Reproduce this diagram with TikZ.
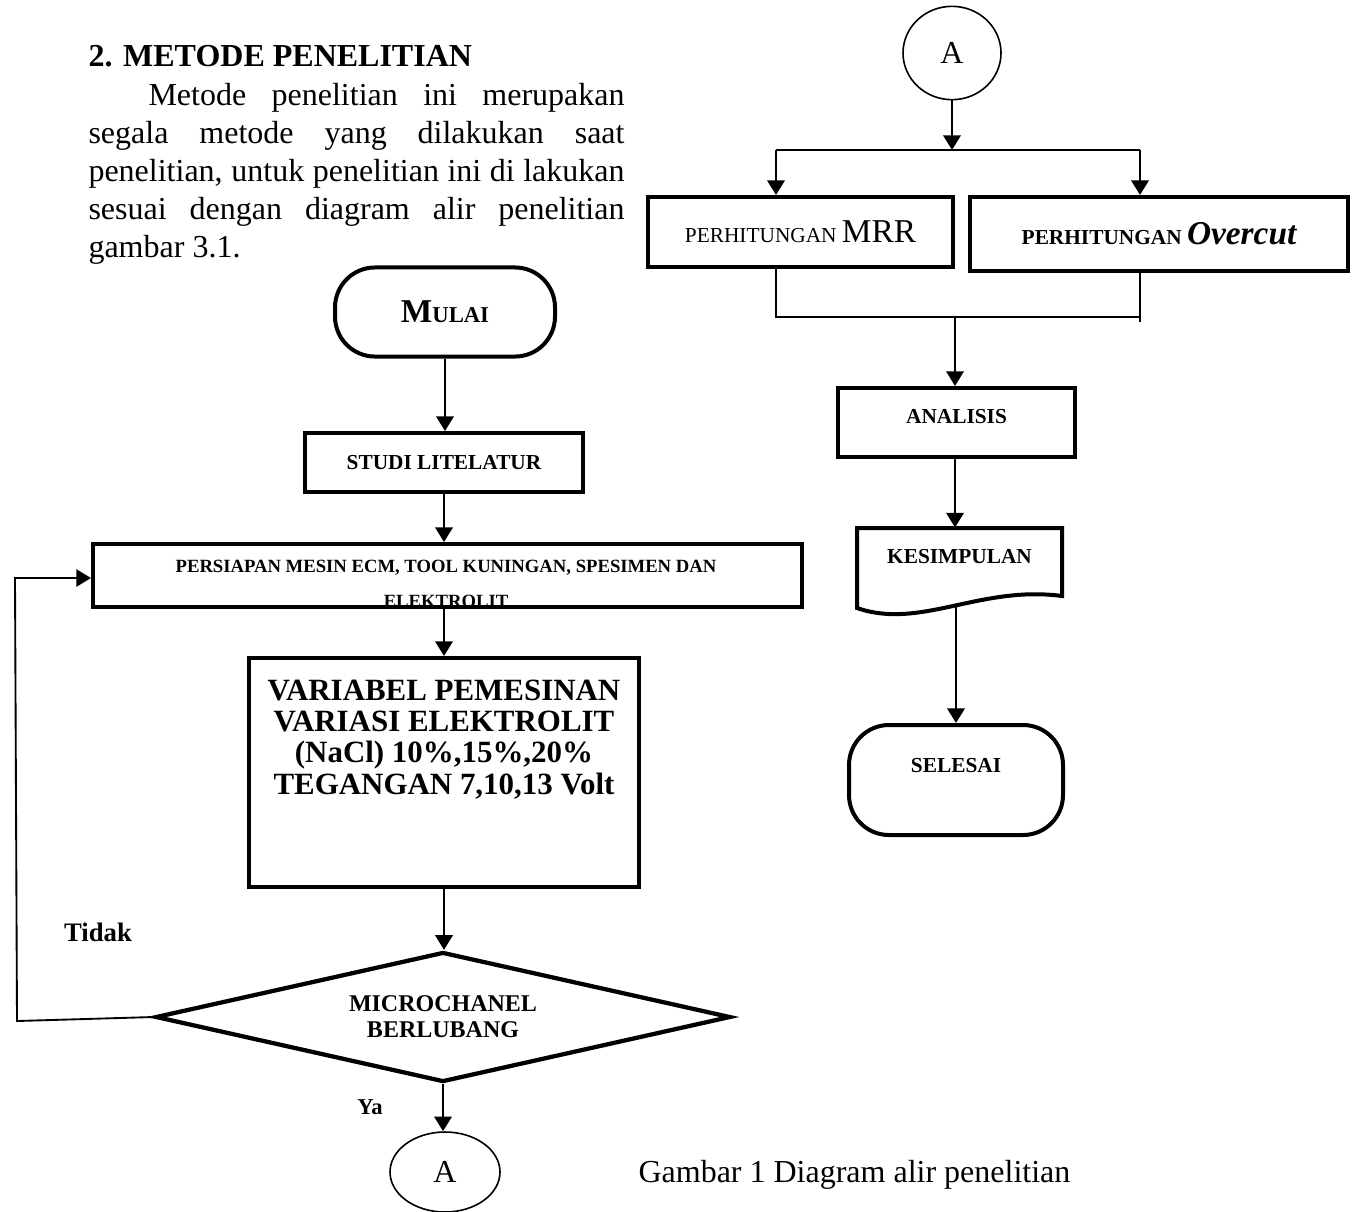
\documentclass[tikz,border=0pt]{standalone}
\usepackage{fontspec}
\setmainfont{Liberation Serif}
\usetikzlibrary{arrows.meta,shapes.geometric}
\begin{document}
\begin{tikzpicture}[x=0.375pt,y=-0.375pt,
  box/.style={draw, line width=1.5pt, rectangle, inner sep=0pt},
  term/.style={draw, line width=1.5pt, rounded corners=15pt, inner sep=0pt},
  conn/.style={draw, line width=0.6pt, ellipse, inner sep=0pt},
  lbl/.style={font=\fontsize{8}{9.5}\selectfont\bfseries, inner sep=0pt, align=center},
  arr/.style={line width=1pt, -{Triangle[length=5.5pt,width=6.5pt]}},
  thinln/.style={line width=0.7pt}]
\useasboundingbox[fill=white] (0,0) rectangle (1354,1211);

% heading and paragraph
\node[anchor=base west, inner sep=0pt, font=\fontsize{12}{14}\selectfont\bfseries] (head) at (88,66) {2.\hspace{4pt}METODE PENELITIAN};
\node[anchor=north west, inner sep=0pt, text width=201pt, align=justify, font=\fontsize{12}{14.25}\selectfont] (para) at (88,83)
  {\hspace*{22.5pt}Metode penelitian ini merupakan\linebreak segala metode yang dilakukan saat\linebreak penelitian, untuk penelitian ini di lakukan\linebreak sesuai dengan diagram alir penelitian\linebreak gambar 3.1.};

% left column
\node[term, minimum width=82.5pt, minimum height=33.4pt] (mulai) at (445,312)
  {\bfseries\fontsize{12.5}{14}\selectfont M\fontsize{8.5}{10}\selectfont ULAI};
\node[box, lbl, minimum width=104.25pt, minimum height=22.1pt] (studi) at (444,462.5) {STUDI LITELATUR};
\node[box, minimum width=265.9pt, minimum height=23.6pt] (prep) at (447.5,575.5) {};
\begin{scope}
  \clip (prep.south west) rectangle (prep.north east);
  \node[inner sep=0pt, align=center, font=\fontsize{7}{13}\selectfont\bfseries, anchor=north] (prept) at (446,560)
    {PERSIAPAN MESIN ECM, TOOL KUNINGAN, SPESIMEN DAN\\ELEKTROLIT};
\end{scope}
\node[box, minimum width=146.25pt, minimum height=85.9pt] (var) at (444,772.5) {};
\node[anchor=north, inner sep=0pt, align=center, font=\fontsize{11.6}{11.8}\selectfont\bfseries] (vart) at (444,679)
  {VARIABEL PEMESINAN\\VARIASI ELEKTROLIT\\(NaCl) 10\%,15\%,20\%\\TEGANGAN 7,10,13 Volt};
\node[draw, diamond, shape aspect=4.4, line width=1.6pt, inner sep=0pt, minimum width=215.6pt, minimum height=48.75pt,
  align=center, font=\fontsize{9}{9.75}\selectfont\bfseries] (dec) at (443,1017) {MICROCHANEL\\BERLUBANG};
\node[conn, minimum width=41.25pt, minimum height=30pt, font=\fontsize{12}{14}\selectfont] (a1) at (445,1172) {A};
\node[inner sep=0pt, font=\fontsize{8.5}{10}\selectfont\bfseries] (ya) at (370,1107) {Ya};
\node[inner sep=0pt, font=\fontsize{10}{12}\selectfont\bfseries] (tidak) at (98,932) {Tidak};

\draw[arr] (mulai.south) -- (mulai.south |- studi.north);
\draw[arr] (studi.south) -- (studi.south |- prep.north);
\draw[arr] (prep.south -| var.north) -- (var.north);
\draw[arr] (var.south) -- (var.south |- dec.north);
\draw[arr] (dec.south) -- (dec.south |- a1.north);
\coordinate (lp1) at (17,1021);
\coordinate (lp2) at (15,578);
\draw[thinln, -{Triangle[length=5.5pt,width=6.5pt]}] (dec.west) -- (lp1) -- (lp2) -- (lp2 -| prep.west);

% right column
\node[conn, minimum width=36.75pt, minimum height=35pt, font=\fontsize{12}{14}\selectfont] (a2) at (952,53) {A};
\node[box, minimum width=114.4pt, minimum height=26.25pt] (mrr) at (800.5,232)
  {\fontsize{8}{10}\selectfont PERHITUNGAN \fontsize{12.5}{14}\selectfont MRR};
\node[box, minimum width=141.75pt, minimum height=27.75pt] (ovc) at (1159,234)
  {\fontsize{8}{10}\selectfont\bfseries PERHITUNGAN \fontsize{12.5}{14}\selectfont\itshape Overcut};
\coordinate (j1) at (952,150);
\coordinate (jl) at (776,150);
\coordinate (jr) at (1140,150);
\draw[arr] (a2.south) -- (j1);
\draw[thinln] (jl) -- (jr);
\draw[arr] (jl) -- (jl |- mrr.north);
\draw[arr] (jr) -- (jr |- ovc.north);
\coordinate (bl) at (776,317);
\coordinate (br) at (1140,317);
\coordinate (br2) at (1140,322);
\coordinate (bm) at (955,317);
\draw[thinln] (bl |- mrr.south) -- (bl) -- (br);
\draw[thinln] (br |- ovc.south) -- (br2);

\node[box, minimum width=88.9pt, minimum height=25.9pt] (ana) at (956.5,422.5) {};
\node[lbl] (anat) at (956.5,417) {ANALISIS};
\draw[arr] (bm) -- (bm |- ana.north);

\node[inner sep=0pt, minimum width=76.9pt, minimum height=29.25pt] (kes) at (959.5,567) {};
\draw[line width=1.5pt] (857,608) -- (857,528) -- (1062,528) -- (1062,596)
  .. controls (980,585) and (920,630) .. (857,608) -- cycle;
\node[lbl] (kest) at (959.5,557) {KESIMPULAN};
\draw[arr] (ana.south -| bm) -- (bm |- kes.north);

\node[term, minimum width=80.25pt, minimum height=41.25pt] (sel) at (956,780) {};
\node[lbl] (selt) at (956,766) {SELESAI};
\coordinate (kb) at (956,606);
\draw[arr] (kb) -- (kb |- sel.north);

% caption
\node[anchor=base west, inner sep=0pt, font=\fontsize{12}{14}\selectfont] (cap) at (638,1182) {Gambar 1 Diagram alir penelitian};
\end{tikzpicture}
\end{document}
